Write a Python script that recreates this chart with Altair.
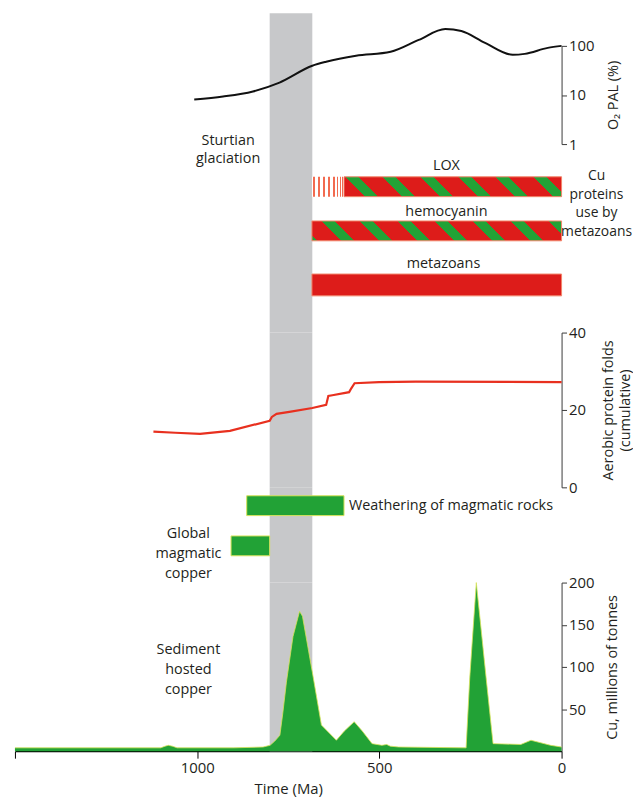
import altair as alt
import pandas as pd

FONT = "Open Sans"
INK = "#231f20"
GRAY = "#c7c8ca"
RED = "#dd1c1a"
GREEN = "#22a236"
HATCH = "#f26b50"
EDGE_RED = "#f2866a"
EDGE_GREEN = "#d9e35a"
FS = 14.5

W = 551
H_O2, H_PROT, H_FOLD, H_ROCK, H_CU = 99, 190, 156, 96, 170

# ---------------- data ----------------
glaciation = [801, 684]  # Sturtian glaciation (Ma)

o2_ma = [1008, 929, 847, 774, 684, 646, 564, 469, 392, 319, 275, 210, 134, 101, 38, 0]
o2_pal = [8.1, 9.3, 11.8, 17.9, 39.4, 47.5, 62.8, 75.7, 132, 220, 200, 115, 65.8, 68.7, 91, 100]

protein_names = ["LOX", "hemocyanin", "metazoans"]
protein_start = [685, 685, 685]
protein_end = [0, 0, 0]
lox_hatched_end = 597
protein_label_ma = [316, 316, 324]

folds_ma = [1120, 1060, 992, 910, 801, 795, 782, 747, 684, 646, 640, 629, 583, 577, 568, 501, 400, 0]
folds_val = [14.4, 14.1, 13.8, 14.6, 17.2, 18.2, 19.0, 19.5, 20.5, 21.3, 23.6, 23.8, 24.6, 25.6, 26.9, 27.2, 27.3, 27.2]

rock_names = ["Weathering of magmatic rocks", "Global magmatic copper"]
rock_start = [864, 907]
rock_end = [597, 801]

cu_ma = [1500, 1100, 1088, 1079, 1068, 1055, 900,
         819, 800, 787, 773, 765, 755, 737, 719, 711,
         684, 659, 643, 618, 596, 569, 547, 520, 493,
         480, 470, 447,
         262, 252, 234, 207, 188,
         112, 84, 30, 0]
cu_val = [4, 4, 6, 7, 6, 4, 4,
          5, 7, 12, 19, 45, 82, 136, 166, 160,
          94, 31, 24, 13, 24, 35, 24, 9, 7,
          8, 6, 5,
          4, 87, 200, 87, 9,
          8, 13, 7, 5]

x_ticks = [1500, 1000, 500, 0]
o2_ticks = [1, 10, 100]
fold_ticks = [0, 20, 40]
cu_ticks = [50, 100, 150, 200]

# ---------------- helpers ----------------
xs = alt.Scale(domain=[1500, 0], nice=False)
px_per_ma = W / 1500


def xq(field, axis=None):
    return alt.X(field, type="quantitative", scale=xs, axis=axis)


def stripe_fill(width_px, height_px, period, green, phase):
    total = width_px + height_px
    k = height_px / width_px
    a = (1 + k) / (1 + k * k)
    stops = []

    def add(s, c):
        stops.append(alt.GradientStop(offset=min(max(s / total, 0.0), 1.0), color=c))

    add(0, RED)
    s = phase - period
    while s < total:
        g0, g1 = s, s + green
        if g1 > 0 and g0 < total:
            add(max(g0, 0), RED)
            add(max(g0, 0), GREEN)
            add(min(g1, total), GREEN)
            add(min(g1, total), RED)
        s += period
    add(total, RED)
    return alt.LinearGradient(gradient="linear", stops=stops, x1=0, y1=1, x2=a, y2=1 - a * k)


def hatch_fill(width_px, lines, lw):
    stops = [alt.GradientStop(offset=0, color="#ffffff")]
    for p in lines:
        a = (p - lw / 2) / width_px
        b = (p + lw / 2) / width_px
        stops += [alt.GradientStop(offset=a, color="#ffffff"), alt.GradientStop(offset=a, color=HATCH),
                  alt.GradientStop(offset=b, color=HATCH), alt.GradientStop(offset=b, color="#ffffff")]
    stops.append(alt.GradientStop(offset=1, color="#ffffff"))
    return alt.LinearGradient(gradient="linear", stops=stops, x1=0, y1=0, x2=1, y2=0)


def right_axis(title, values, pad, fmt="d"):
    return alt.Axis(orient="right", title=title, values=values, format=fmt, tickSize=5,
                    domainColor="#3a3a3a", tickColor="#3a3a3a", labelFontSize=15, labelColor=INK,
                    labelPadding=2, labelFont=FONT, titleFont=FONT, titleAngle=270,
                    titleFontSize=14.5, titleFontWeight="normal", titleColor=INK,
                    titlePadding=pad, grid=False, labelFlush=False)


band_df = pd.DataFrame({"start": [glaciation[0]], "end": [glaciation[1]]})


def band(x_axis=None, y=None, y2=None):
    enc = dict(x=xq("start", x_axis), x2="end")
    if y is not None:
        enc["y"] = y
        enc["y2"] = y2
    return alt.Chart(band_df).mark_rect(color=GRAY).encode(**enc)


# ---------------- panel A: O2 ----------------
ys_o2 = alt.Scale(type="log", domain=[1, 100], nice=False)
o2_axis = right_axis("O₂ PAL (%)", o2_ticks, 27)
o2_df = pd.DataFrame({"ma": o2_ma, "pal": o2_pal})
panel_o2 = alt.layer(
    band(None, alt.YDatum(460, scale=ys_o2, axis=o2_axis), alt.Y2Datum(1)),
    alt.Chart(o2_df).mark_line(color="#111111", strokeWidth=2, interpolate="monotone").encode(
        x=xq("ma"),
        y=alt.Y("pal:Q", scale=ys_o2, axis=o2_axis),
    ),
).properties(width=W, height=H_O2)

# ---------------- panel B: Cu proteins ----------------
ys_prot = alt.Scale(type="point", domain=protein_names, range=[43, 142], padding=0)
yb = alt.Y("lane:N", scale=ys_prot, axis=None)

lox_hatch_df = pd.DataFrame({"lane": [protein_names[0]], "start": [protein_start[0]], "end": [lox_hatched_end]})
lox_df = pd.DataFrame({"lane": [protein_names[0]], "start": [lox_hatched_end], "end": [protein_end[0]]})
hemo_df = pd.DataFrame({"lane": [protein_names[1]], "start": [protein_start[1]], "end": [protein_end[1]]})
meta_df = pd.DataFrame({"lane": [protein_names[2]], "start": [protein_start[2]], "end": [protein_end[2]]})

lox_w = (lox_hatched_end - protein_end[0]) * px_per_ma
hemo_w = (protein_start[1] - protein_end[1]) * px_per_ma
hatch_w = (protein_start[0] - lox_hatched_end) * px_per_ma

bar_b = dict(x=xq("start"), x2="end", y=yb)
layers_b = [
    band(),
    alt.Chart(lox_hatch_df).mark_bar(size=20, fill=hatch_fill(hatch_w, [2, 7, 12, 17, 22, 26, 29, 31], 1.5)).encode(**bar_b),
    alt.Chart(lox_df).mark_bar(size=20, fill=stripe_fill(lox_w, 20, 38, 13, 21),
                               stroke=EDGE_RED, strokeWidth=1).encode(**bar_b),
    alt.Chart(hemo_df).mark_bar(size=20, yOffset=-5, fill=stripe_fill(hemo_w, 20, 38, 13, 30),
                                stroke=EDGE_RED, strokeWidth=1).encode(**bar_b),
    alt.Chart(meta_df).mark_bar(size=22, fill=RED, stroke=EDGE_RED, strokeWidth=1).encode(**bar_b),
]
label_dy = [-21, -24, -21]
for name, lma, dy in zip(protein_names, protein_label_ma, label_dy):
    d = pd.DataFrame({"lane": [name], "ma": [lma]})
    layers_b.append(
        alt.Chart(d).mark_text(text=name, dy=dy, font=FONT, fontSize=FS, color=INK).encode(x=xq("ma"), y=yb)
    )
sturt_df = pd.DataFrame({"lane": [protein_names[0]], "ma": [915]})
layers_b.append(
    alt.Chart(sturt_df).mark_text(text=["Sturtian", "glaciation"], dy=-46, lineHeight=18, font=FONT,
                                  fontSize=FS, color=INK, baseline="middle").encode(x=xq("ma"), y=yb)
)
cu_note_df = pd.DataFrame({"lane": [protein_names[0]], "ma": [-96]})
layers_b.append(
    alt.Chart(cu_note_df).mark_text(text=["Cu", "proteins", "use by", "metazoans"], dy=-11, lineHeight=19,
                                    font=FONT, fontSize=14, color=INK, baseline="middle").encode(x=xq("ma"), y=yb)
)
panel_prot = alt.layer(*layers_b).properties(width=W, height=H_PROT)

# ---------------- panel C: aerobic protein folds ----------------
folds_df = pd.DataFrame({"ma": folds_ma, "val": folds_val})
panel_fold = alt.layer(
    band(),
    alt.Chart(folds_df).mark_line(color="#e8301f", strokeWidth=2.2).encode(
        x=xq("ma"),
        y=alt.Y("val:Q", scale=alt.Scale(domain=[0, 40], nice=False),
                axis=right_axis(["Aerobic protein folds", "(cumulative)"], fold_ticks, 14)),
    ),
).properties(width=W, height=H_FOLD)

# ---------------- panel D: magmatic rocks ----------------
ys_rock = alt.Scale(type="point", domain=rock_names, range=[18.5, 59], padding=0)
yd = alt.Y("lane:N", scale=ys_rock, axis=None)
rock_df = pd.DataFrame({"lane": rock_names, "start": rock_start, "end": rock_end})
weather_lbl = pd.DataFrame({"lane": [rock_names[0]], "ma": [rock_end[0]]})
magm_lbl = pd.DataFrame({"lane": [rock_names[1]], "ma": [1024]})
panel_rock = alt.layer(
    band(),
    alt.Chart(rock_df).mark_bar(size=20, fill=GREEN, stroke=EDGE_GREEN, strokeWidth=1).encode(
        x=xq("start"), x2="end", y=yd),
    alt.Chart(weather_lbl).mark_text(text=rock_names[0], align="left", dx=5, font=FONT, fontSize=FS,
                                     color=INK).encode(x=xq("ma"), y=yd),
    alt.Chart(magm_lbl).mark_text(text=["Global", "magmatic", "copper"], dy=-12, lineHeight=20, font=FONT,
                                  fontSize=FS, color=INK, baseline="middle").encode(x=xq("ma"), y=yd),
).properties(width=W, height=H_ROCK)

# ---------------- panel E: sediment hosted copper ----------------
cu_df = pd.DataFrame({"ma": cu_ma, "cu": cu_val})
ys_cu = alt.Scale(domain=[0, 200], nice=False)
x_axis = alt.Axis(values=x_ticks, format="d", labelExpr="datum.value == 1500 ? '' : datum.label",
                  tickSize=7, domainColor="#000000", tickColor="#000000", domainWidth=1.2,
                  labelFontSize=15, labelColor=INK, labelPadding=2, labelFont=FONT, labelFlush=False,
                  title="Time (Ma)", titleFont=FONT, titleFontSize=15, titleFontWeight="normal",
                  titleColor=INK, titlePadding=7, grid=False)
cu_axis = right_axis("Cu, millions of tonnes", cu_ticks, 26)
sed_df = pd.DataFrame({"ma": [1024], "cu": [120]})
panel_cu = alt.layer(
    band(x_axis),
    alt.Chart(cu_df).mark_area(color=GREEN, opacity=1,
                               line=alt.OverlayMarkDef(color=EDGE_GREEN, strokeWidth=0.8)).encode(
        x=alt.X("ma:Q", scale=xs, axis=x_axis),
        y=alt.Y("cu:Q", scale=ys_cu, axis=cu_axis),
    ),
    alt.Chart(sed_df).mark_text(text=["Sediment", "hosted", "copper"], lineHeight=20, font=FONT,
                                fontSize=FS, color=INK, baseline="middle").encode(
        x=alt.X("ma:Q", scale=xs, axis=x_axis), y=alt.Y("cu:Q", scale=ys_cu, axis=cu_axis)),
).properties(width=W, height=H_CU)

chart = alt.vconcat(panel_o2, panel_prot, panel_fold, panel_rock, panel_cu, spacing=0, bounds="flush").properties(
    padding={"left": 5, "top": 2, "right": 0, "bottom": 0}
).configure_view(stroke=None)

chart.save("out.html", embed_options={"renderer": "svg", "actions": False})
